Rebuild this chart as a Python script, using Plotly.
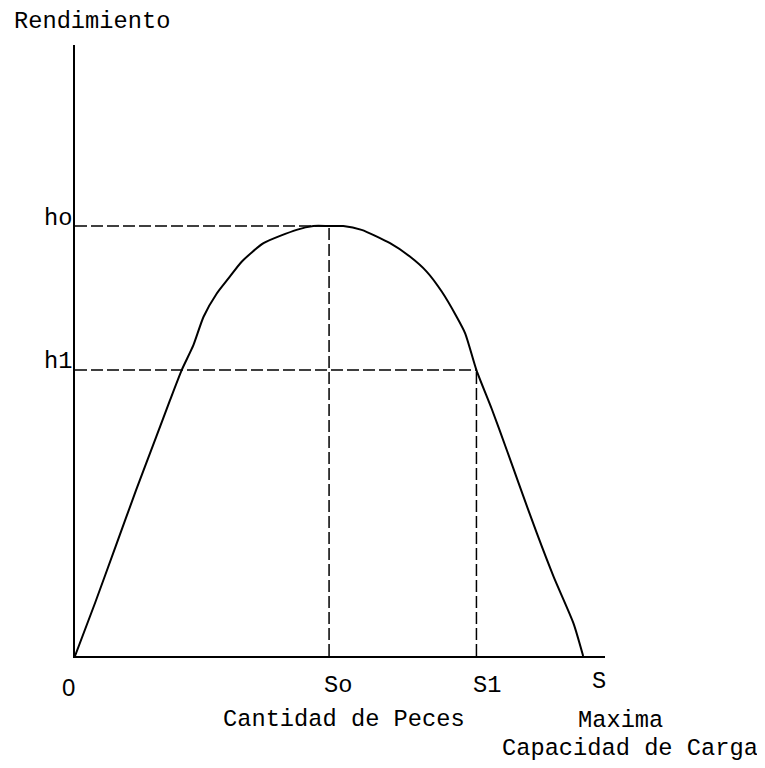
import plotly.graph_objects as go

# curva de rendimiento vs cantidad de peces
stock = [0, 4.0, 8.0, 12.0, 16.0, 18.7, 21.0, 23.3, 25.3, 27.9, 30.2,
         32.8, 37.1, 43.6, 46.9, 50.0, 52.8, 56.4, 62.0, 65.9, 69.2, 72.2, 75.1,
         76.8, 79.0, 82.0, 85.0, 87.3, 90.9, 94.2, 98.1, 100.0]
rendimiento = [0, 12.5, 25.5, 38.5, 51.0, 59.5, 66.5, 72.3, 78.9, 84.3,
               87.8, 91.7, 96.0, 99.1, 100.0, 100.0, 100.0, 99.1, 96.0, 92.9, 89.4,
               84.7, 78.9, 75.0, 66.5, 57.5, 47.8, 40.2, 28.5, 18.4, 7.6, 0]

s_o, s_1, s_max = 50.0, 79.0, 100.0
h_o, h_1 = 100.0, 66.5
x_max, y_max = 104.3, 142.1

mono = dict(family="Liberation Mono, Courier New, monospace", size=23.7, color="black")

fig = go.Figure()
fig.add_trace(go.Scatter(x=stock, y=rendimiento, mode="lines",
                         line=dict(color="black", width=2, shape="spline", smoothing=0.6),
                         hoverinfo="skip"))

dash = "12px,4px"
for x0, y0, x1, y1 in [(0, h_o, s_o, h_o), (s_o, 0, s_o, h_o),
                       (0, h_1, s_1, h_1), (s_1, 0, s_1, h_1)]:
    fig.add_shape(type="line", x0=x0, y0=y0, x1=x1, y1=y1, xref="x", yref="y",
                  line=dict(color="black", width=1.5, dash=dash))

ann = []
# etiquetas del eje y
ann.append(dict(x=0, y=h_o, text="ho", xanchor="right", yanchor="middle",
                xshift=-1, yshift=8, font=mono))
ann.append(dict(x=0, y=h_1, text="h1", xanchor="right", yanchor="middle",
                xshift=-1, yshift=9, font=mono))
# etiquetas del eje x
ann.append(dict(x=0, y=0, text="0", xanchor="center", yanchor="middle",
                xshift=-7, yshift=-31,
                font=dict(family="Liberation Sans, Arial", size=24, color="black")))
ann.append(dict(x=s_o, y=0, text="So", xanchor="left", yanchor="middle",
                xshift=-7, yshift=-29, font=mono))
ann.append(dict(x=s_1, y=0, text="S1", xanchor="left", yanchor="middle",
                xshift=-5, yshift=-29, font=mono))
ann.append(dict(x=s_max, y=0, text="S", xanchor="left", yanchor="middle",
                xshift=7, yshift=-25, font=mono))
# titulos (posiciones en pixeles de la pagina)
titulos = [("Rendimiento", 12, 21), ("Cantidad de Peces", 221, 719),
           ("Maxima", 576, 720), ("Capacidad de Carga", 500, 748)]

OFF = 8  # margen del body de la pagina
W, H = 765 - OFF, 768 - OFF
L, R, T, B = 75 - OFF, 160, 45 - OFF, 112
pw, ph = W - L - R, H - T - B
for txt, px, py in titulos:
    ann.append(dict(x=(px - OFF - L) / pw, y=1 - (py - OFF - T) / ph,
                    xref="paper", yref="paper", xanchor="left", yanchor="middle",
                    text=txt, font=mono))
for a in ann:
    a["showarrow"] = False
    fig.add_annotation(**a)

fig.update_xaxes(range=[0, x_max], showline=True, linecolor="black", linewidth=2,
                 showgrid=False, zeroline=False, showticklabels=False, ticks="")
fig.update_yaxes(range=[0, y_max], showline=True, linecolor="black", linewidth=2,
                 showgrid=False, zeroline=False, showticklabels=False, ticks="")
fig.update_layout(width=W, height=H, margin=dict(l=L, r=R, t=T, b=B),
                  paper_bgcolor="#fff", plot_bgcolor="#fff", showlegend=False)

fig.write_html("out.html")
